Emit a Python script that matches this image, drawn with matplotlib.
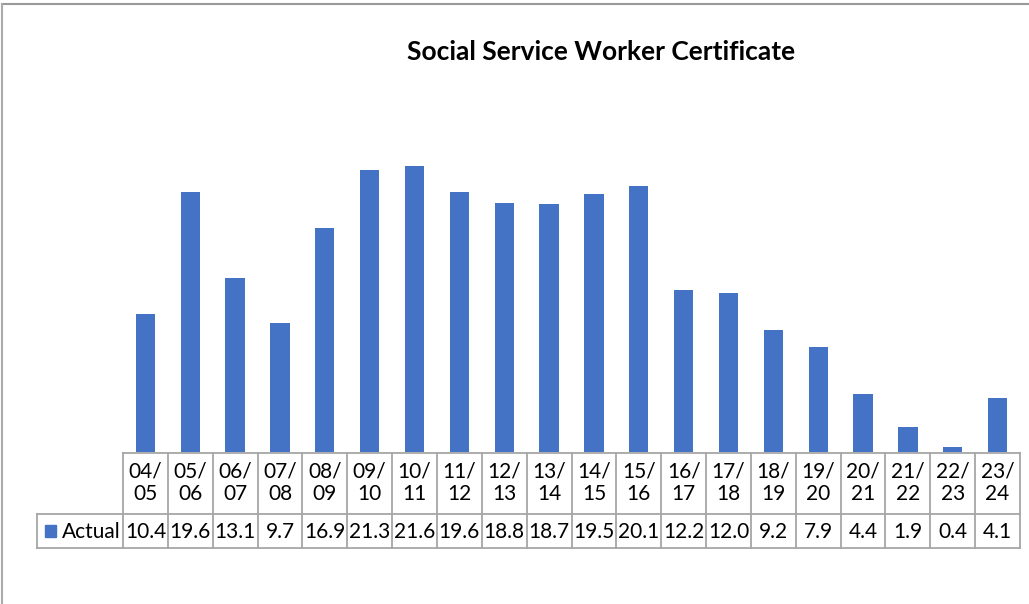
import matplotlib
matplotlib.use("Agg")
import matplotlib.pyplot as plt
from matplotlib.transforms import blended_transform_factory
from matplotlib.lines import Line2D
from matplotlib.patches import Rectangle

years = ["04/\n05", "05/\n06", "06/\n07", "07/\n08", "08/\n09", "09/\n10", "10/\n11",
         "11/\n12", "12/\n13", "13/\n14", "14/\n15", "15/\n16", "16/\n17", "17/\n18",
         "18/\n19", "19/\n20", "20/\n21", "21/\n22", "22/\n23", "23/\n24"]
actual = [10.4, 19.6, 13.1, 9.7, 16.9, 21.3, 21.6, 19.6, 18.8, 18.7,
          19.5, 20.1, 12.2, 12.0, 9.2, 7.9, 4.4, 1.9, 0.4, 4.1]
series_name = "Actual"
title = "Social Service Worker Certificate"

plt.rcParams['font.family'] = ['Lato', 'DejaVu Sans']
W, H = 1029, 604
fig = plt.figure(figsize=(W / 100, H / 100), dpi=100)

def fy(py):
    return 1 - py / H

def fx(px):
    return px / W

blue = "#4472C4"
grid = "#A6A6A6"

# plot area
ax = fig.add_axes([fx(123), fy(452), fx(1020) - fx(123), fy(134) - fy(452)])
x = list(range(len(actual)))
ax.bar(x, actual, width=0.43, color=blue)
ax.set_xlim(-0.5, len(actual) - 0.5)
ax.set_ylim(0, 24)
ax.axis("off")

fig.text(fx(601), fy(52), title, ha="center", va="center", fontsize=19, fontweight="bold")

# data table below the plot
tr = blended_transform_factory(ax.transData, fig.transFigure)
lw = 1.3
n = len(actual)
y_top, y_mid, y_bot = fy(453), fy(514), fy(548)
for i in range(n + 1):
    fig.add_artist(Line2D([i - 0.5, i - 0.5], [y_top, y_bot], transform=tr, color=grid, lw=lw))
fig.add_artist(Line2D([-0.5, n - 0.5], [y_top, y_top], transform=tr, color=grid, lw=lw))
for yy in (y_mid, y_bot):
    fig.add_artist(Line2D([fx(37), fx(1020)], [yy, yy], transform=fig.transFigure, color=grid, lw=lw))
fig.add_artist(Line2D([fx(37), fx(37)], [y_mid, y_bot], transform=fig.transFigure, color=grid, lw=lw))

for i, (lab, v) in enumerate(zip(years, actual)):
    fig.text(i, fy(483), lab, transform=tr, ha="center", va="center", fontsize=15, linespacing=1.15)
    fig.text(i, fy(532), f"{v:.1f}", transform=tr, ha="center", va="center", fontsize=15)

fig.add_artist(Rectangle((fx(45), fy(537)), fx(11), fy(525) - fy(537), transform=fig.transFigure,
                         color=blue))
fig.text(fx(62), fy(532), series_name, ha="left", va="center", fontsize=15)

# chart border
fig.add_artist(Line2D([fx(2), 1], [fy(4), fy(4)], transform=fig.transFigure, color="#999999", lw=1.5))
fig.add_artist(Line2D([fx(2), fx(2)], [fy(4), 0], transform=fig.transFigure, color="#AAAAAA", lw=1.5))

fig.savefig("out.png", dpi=100)
